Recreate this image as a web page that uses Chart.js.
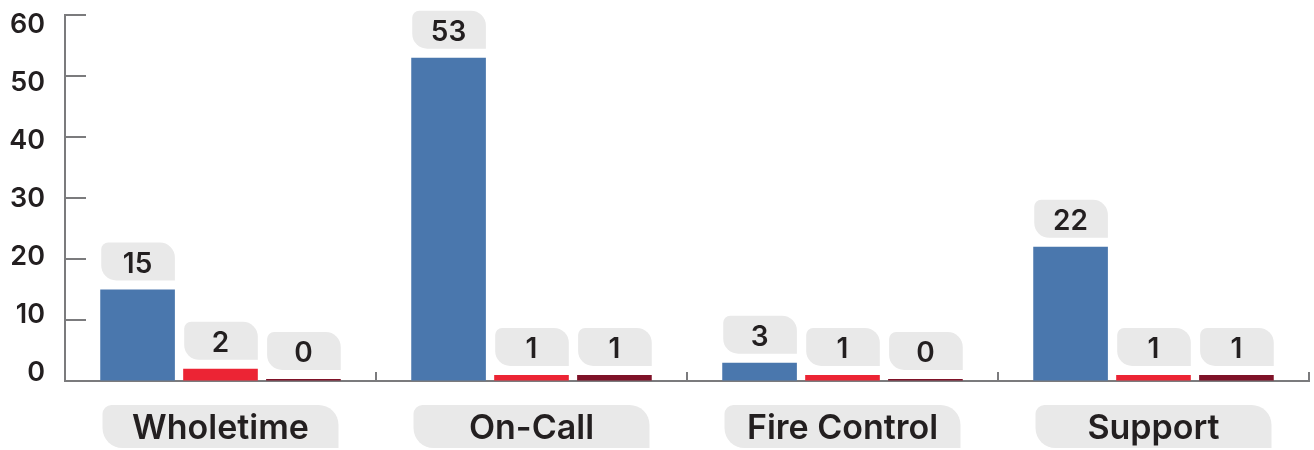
<!DOCTYPE html>
<html>
<head>
<meta charset="utf-8">
<script src="https://cdn.jsdelivr.net/npm/chart.js@4/dist/chart.umd.min.js"></script>
<style>
  body { margin: 0; background: #fff; }
</style>
</head>
<body>
<canvas id="chart" width="1314" height="450"></canvas>
<script>
// chart data
const categories = ['Wholetime', 'On-Call', 'Fire Control', 'Support'];
const seriesA = [15, 53, 3, 22];
const seriesB = [2, 1, 1, 1];
const seriesC = [0, 1, 0, 1];
const yTicks = [0, 10, 20, 30, 40, 50, 60];

const FONT = 'Inter, "Noto Sans", sans-serif';
const TEXT = '#231f20';
const AXIS = '#7b7b7d';
const BOX = '#e9e9e9';

// rounded label box: small top-left, big top-right / bottom-left, square bottom-right
function box(ctx, x, y, w, h, r1, r2) {
  ctx.beginPath();
  ctx.roundRect(x, y, w, h, [r1, r2, 0, r2]);
  ctx.fillStyle = BOX;
  ctx.fill();
}

const decor = {
  id: 'decor',
  afterDatasetsDraw(chart) {
    const ctx = chart.ctx;
    const xs = chart.scales.x;
    const ys = chart.scales.y;
    const area = chart.chartArea;
    ctx.save();

    // inner tick marks
    ctx.strokeStyle = AXIS;
    ctx.lineWidth = 2;
    yTicks.forEach(v => {
      if (v === 0) return;
      const py = ys.getPixelForValue(v);
      ctx.beginPath();
      ctx.moveTo(area.left, py);
      ctx.lineTo(area.left + 21, py);
      ctx.stroke();
    });
    const half = xs.width / categories.length / 2;
    categories.forEach((c, i) => {
      const px = xs.getPixelForValue(i) + half;
      ctx.beginPath();
      ctx.moveTo(px, area.bottom);
      ctx.lineTo(px, area.bottom - 9);
      ctx.stroke();
    });

    // value labels
    ctx.textAlign = 'center';
    ctx.textBaseline = 'alphabetic';
    ctx.font = '600 28px ' + FONT;
    chart.data.datasets.forEach((ds, di) => {
      chart.getDatasetMeta(di).data.forEach((bar, i) => {
        const bottom = bar.y - 9;
        box(ctx, bar.x - bar.width / 2 + 1, bottom - 38, bar.width - 1, 38, 7, 15);
        ctx.fillStyle = TEXT;
        ctx.fillText(ds.data[i], bar.x, bottom - 8);
      });
    });

    // category labels
    ctx.font = '600 34px ' + FONT;
    categories.forEach((c, i) => {
      const cx = xs.getPixelForValue(i);
      box(ctx, cx - 118, 405, 236, 43, 9, 20);
      ctx.fillStyle = TEXT;
      ctx.fillText(c, cx, 439);
    });
    ctx.restore();
  }
};

new Chart(document.getElementById('chart'), {
  type: 'bar',
  data: {
    labels: categories,
    datasets: [
      { data: seriesA, backgroundColor: '#4a77ad' },
      { data: seriesB, backgroundColor: '#ec2434' },
      { data: seriesC, backgroundColor: '#7f1228' }
    ]
  },
  options: {
    responsive: false,
    animation: false,
    layout: { padding: { top: 15, right: 5 } },
    datasets: { bar: { minBarLength: 2, categoryPercentage: 0.8, barPercentage: 0.9 } },
    plugins: { legend: { display: false }, tooltip: { enabled: false } },
    scales: {
      x: {
        ticks: { display: false },
        grid: { display: false },
        border: { display: true, color: AXIS, width: 2 },
        afterFit: s => { s.height = 69; s.paddingLeft = 0; s.paddingRight = 0; }
      },
      y: {
        min: 0,
        max: 60,
        weight: 0,
        ticks: { display: false, stepSize: 10 },
        grid: { drawOnChartArea: false, drawTicks: false },
        border: { display: true, color: AXIS, width: 2 },
        afterFit: s => { s.width = 0; s.paddingTop = 0; s.paddingBottom = 0; }
      },
      // label axis, slightly compressed spacing as in the reference
      yLabels: {
        position: 'left',
        weight: 1,
        min: -1.38,
        max: 61.72,
        afterBuildTicks: s => { s.ticks = yTicks.map(v => ({ value: v })); },
        ticks: { color: TEXT, padding: 20, font: { family: FONT, size: 27, weight: '600' } },
        grid: { display: false, drawTicks: false },
        border: { display: false },
        afterFit: s => { s.width = 65; s.paddingTop = 0; s.paddingBottom = 0; }
      }
    }
  },
  plugins: [decor]
});
</script>
</body>
</html>
